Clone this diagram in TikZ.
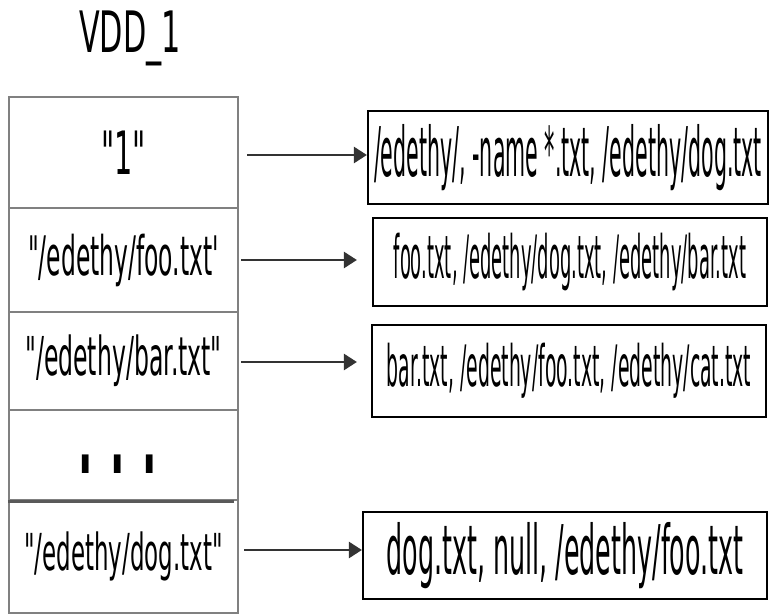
\documentclass[tikz,border=0pt]{standalone}
\usepackage{fontspec}
\setmainfont{DejaVu Sans}
\usetikzlibrary{positioning, arrows.meta}
% squeezed DejaVu: #1 = horizontal stretch, #2 = size
\newcommand{\narrowfont}[2]{\fontspec{DejaVu Sans}[FakeStretch=#1]\fontsize{#2}{#2}\selectfont}
\tikzset{
    cell_node/.style={draw=black!50, line width=1.3pt, minimum width=4.58cm, inner sep=0pt},
    list_node/.style={draw=black, line width=1.3pt, inner sep=0pt},
    sep_line/.style={line width=1.8pt, black!65},
    main_arrow/.style={-{Triangle[length=0.26cm, width=0.32cm]}, line width=1.5pt, black!80}
}

\begin{document}
\begin{tikzpicture}[x=0.02cm, y=-0.02cm]
        \useasboundingbox (0,0) rectangle (769,614);
        % title
        \node[anchor=base] (title) at (130,53) {\narrowfont{0.53}{32.5pt}VDD\_1};
        % table of keys
        \node[cell_node, minimum height=2.22cm] (cell1) at (123.5,152.5) {\narrowfont{0.48}{34pt}"1"};
        \node[cell_node, minimum height=2.08cm] (cell2) at (123.5,260) {\narrowfont{0.43}{31pt}"/edethy/foo.txt'};
        \node[cell_node, minimum height=1.96cm] (cell3) at (123.5,361) {\narrowfont{0.44}{30.5pt}"/edethy/bar.txt"};
        \node[cell_node, minimum height=1.80cm] (cell4) at (123.5,455) {};
        \node[cell_node, minimum height=2.26cm] (cell5) at (123.5,556.5) {\narrowfont{0.45}{29pt}"/edethy/dog.txt"};
        \node[anchor=base, inner sep=0pt] (dots) at (118,474) {\narrowfont{0.385}{56pt}\bfseries . . .};
        \draw[sep_line] (cell4.south west) -- ([xshift=-0.1cm]cell4.south east);
        % value lists
        \node[list_node, minimum width=8.0cm, minimum height=1.86cm] (box1) at (568,157.5) {\narrowfont{0.3}{39pt}/edethy/, -name *.txt, /edethy/dog.txt};
        \node[list_node, minimum width=7.88cm, minimum height=1.76cm] (box2) at (570,262) {\narrowfont{0.3}{34pt}foo.txt, /edethy/dog.txt, /edethy/bar.txt};
        \node[list_node, minimum width=7.88cm, minimum height=1.84cm] (box3) at (569,371) {\narrowfont{0.33}{32.5pt}bar.txt, /edethy/foo.txt, /edethy/cat.txt};
        \node[list_node, minimum width=8.08cm, minimum height=1.74cm] (box4) at (565,555.5) {\narrowfont{0.37}{39pt}dog.txt, null, /edethy/foo.txt};
        % arrows
        \draw[main_arrow, shorten <=0.16cm] ([yshift=-0.05cm]cell1.east) -- ([yshift=-0.05cm]cell1.east -| box1.west);
        \draw[main_arrow, shorten <=0.04cm, shorten >=0.3cm] (cell2.east) -- (cell2.east -| box2.west);
        \draw[main_arrow, shorten <=0.04cm, shorten >=0.28cm] ([yshift=-0.02cm]cell3.east) -- ([yshift=-0.02cm]cell3.east -| box3.west);
        \draw[main_arrow, shorten <=0.1cm] ([yshift=0.13cm]cell5.east) -- ([yshift=0.13cm]cell5.east -| box4.west);
\end{tikzpicture}
\end{document}
